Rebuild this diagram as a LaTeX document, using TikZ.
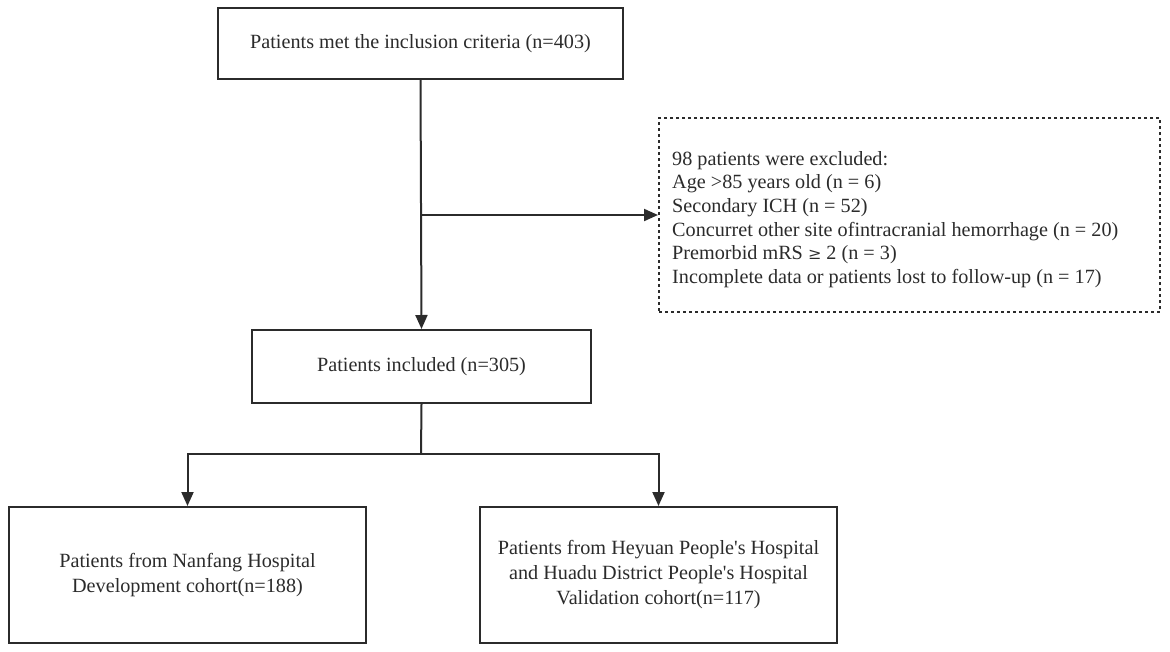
\documentclass[tikz,border=0pt]{standalone}
\usepackage{fontspec}
\setmainfont{Liberation Serif}
\usetikzlibrary{arrows.meta}
\definecolor{ink}{HTML}{2B2B2B}
\begin{document}
\begin{tikzpicture}[x=1pt,y=-1pt,
  box/.style={draw=ink,line width=2pt,rectangle,inner sep=0pt,align=center,
    font=\fontsize{20.2}{25}\selectfont,text=ink},
  dbox/.style={draw=ink,line width=2pt,rectangle,inner sep=0pt,dash pattern=on 3pt off 3pt},
  arr/.style={draw=ink,line width=2pt,-{Triangle[length=14pt,width=12pt]}},
  ln/.style={draw=ink,line width=2pt}]
\useasboundingbox (0,0) rectangle (1170,651);
\node[box,minimum width=405pt,minimum height=71pt] (top) at (420.5,43.5) {Patients met the inclusion criteria (n=403)};
\node[box,minimum width=339pt,minimum height=73pt] (mid) at (421.5,366.5) {Patients included (n=305)};
\node[dbox,minimum width=501pt,minimum height=194pt] (excl) at (909.5,215) {};
\node[anchor=north west,inner sep=0pt,align=left,text=ink,font=\fontsize{20.2}{23.6}\selectfont] (excltext) at (672,151) {98 patients were excluded:\\
Age >85 years old (n = 6)\\
Secondary ICH (n = 52)\\
Concurret other site ofintracranial hemorrhage (n = 20)\\
Premorbid mRS {\fontspec{DejaVu Serif}\fontsize{16}{16}\selectfont ≥} 2 (n = 3)\\
Incomplete data or patients lost to follow-up (n = 17)};
\node[box,minimum width=357pt,minimum height=136pt] (dev) at (187.5,575) {Patients from Nanfang Hospital\\Development cohort(n=188)};
\node[box,minimum width=357pt,minimum height=136pt] (val) at (658.5,575) {Patients from Heyuan People\textquotesingle s Hospital\\and Huadu District People\textquotesingle s Hospital\\Validation cohort(n=117)};
\coordinate (br) at (top.south |- excl.west);
\coordinate (split) at (421,454);
\draw[arr] (top.south) -- (mid.north);
\draw[arr] (br) -- (excl.west);
\draw[ln] (mid.south) -- (split);
\draw[arr] (split) -| (dev.north);
\draw[arr] (split) -| (val.north);
\end{tikzpicture}
\end{document}
